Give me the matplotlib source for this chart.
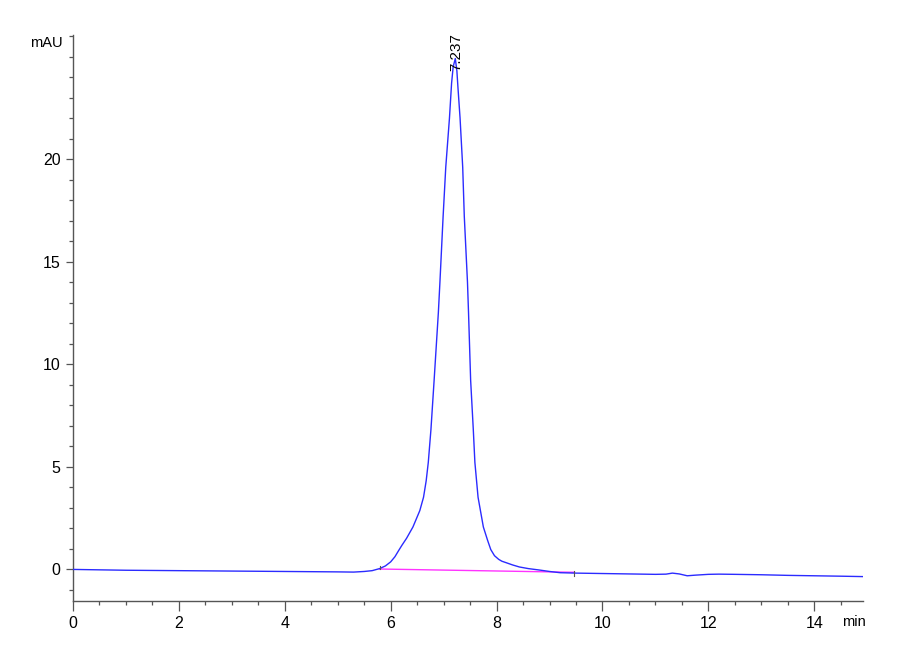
import matplotlib
matplotlib.use("Agg")
import matplotlib.pyplot as plt
from matplotlib.ticker import MultipleLocator, FixedLocator

plt.rcParams['font.family'] = ['Liberation Sans Narrow', 'Liberation Sans', 'DejaVu Sans']

# chromatogram trace (time in min, signal in mAU)
time_min = [0, 0.5, 1.0, 1.5, 2.0, 2.5, 3.0, 3.5, 4.0, 4.5, 5.0, 5.3, 5.5, 5.65,
            5.79, 5.9, 6.0, 6.08, 6.15, 6.21, 6.3, 6.42, 6.55, 6.62, 6.67, 6.71,
            6.76, 6.82, 6.90, 6.93, 6.99, 7.04, 7.11, 7.15, 7.18, 7.22, 7.25,
            7.27, 7.31, 7.36, 7.39, 7.45, 7.47, 7.51, 7.56, 7.59, 7.65, 7.75,
            7.83, 7.89, 7.96, 8.04, 8.1, 8.19, 8.3, 8.43, 8.6, 8.81, 9.0, 9.2,
            9.5, 10.0, 10.5, 11.0, 11.2, 11.32, 11.45, 11.6, 11.75, 12.0, 12.2,
            12.5, 13.0, 13.5, 14.0, 14.5, 14.92]
signal_mau = [-0.02, -0.04, -0.06, -0.07, -0.08, -0.09, -0.10, -0.11, -0.12, -0.13,
              -0.14, -0.15, -0.12, -0.08, 0.02, 0.15, 0.35, 0.6, 0.9, 1.15, 1.5,
              2.05, 2.85, 3.5, 4.3, 5.2, 6.8, 9.2, 12.5, 14.0, 17.2, 19.6, 22.0,
              23.7, 24.5, 24.9, 24.3, 23.5, 22.0, 19.6, 17.2, 14.0, 12.5, 9.2,
              6.8, 5.2, 3.5, 2.05, 1.4, 0.95, 0.65, 0.47, 0.38, 0.3, 0.2, 0.1,
              0.02, -0.05, -0.12, -0.18, -0.2, -0.22, -0.24, -0.26, -0.25, -0.2,
              -0.24, -0.33, -0.3, -0.26, -0.25, -0.26, -0.28, -0.31, -0.33, -0.35,
              -0.37]

# integration baseline
base_t = [5.79, 9.47]
base_v = [0.0, -0.16]

peak_rt = 7.237
peak_label = "7.237"

y_major = [0, 5, 10, 15, 20]

fig = plt.figure(figsize=(9, 6.6), dpi=100)
ax = fig.add_axes([0.0811, 0.0894, 0.8778, 0.8576])

ax.plot(time_min, signal_mau, color='#2b2bff', lw=1.0, zorder=3)
ax.plot(base_t, base_v, color='#ff33ff', lw=1.0, zorder=2)
# integration start/end markers
ax.plot([base_t[0], base_t[0]], [base_v[0], base_v[0] + 0.15], color='#555555', lw=0.8, zorder=4)
ax.plot([base_t[1], base_t[1]], [base_v[1] - 0.2, base_v[1] + 0.05], color='#555555', lw=0.8, zorder=4)

ax.text(peak_rt, 24.3, peak_label, rotation=90, ha='center', va='bottom',
        fontsize=11, color='black', zorder=5)

ax.set_xlim(0, 14.92)
ax.set_ylim(-1.56, 26.05)

ax.xaxis.set_major_locator(MultipleLocator(2))
ax.xaxis.set_minor_locator(MultipleLocator(0.5))
ax.yaxis.set_major_locator(FixedLocator(y_major))
ax.yaxis.set_minor_locator(MultipleLocator(1))

for s in ['top', 'right']:
    ax.spines[s].set_visible(False)
for s in ['left', 'bottom']:
    ax.spines[s].set_color('#555555')
    ax.spines[s].set_linewidth(1.0)

ax.tick_params(axis='both', which='both', direction='out', color='#555555', width=0.9)
ax.tick_params(axis='x', which='major', length=7, pad=4, labelsize=11.5)
ax.tick_params(axis='x', which='minor', length=3)
ax.tick_params(axis='y', which='major', length=5, pad=4, labelsize=11.5)
ax.tick_params(axis='y', which='minor', length=3)

ax.text(-0.0127, 0.985, 'mAU', transform=ax.transAxes, ha='right', va='center', fontsize=10.5)
ax.text(0.9886, -0.037, 'min', transform=ax.transAxes, ha='center', va='center', fontsize=10.5)

fig.savefig('out.png', dpi=100)
